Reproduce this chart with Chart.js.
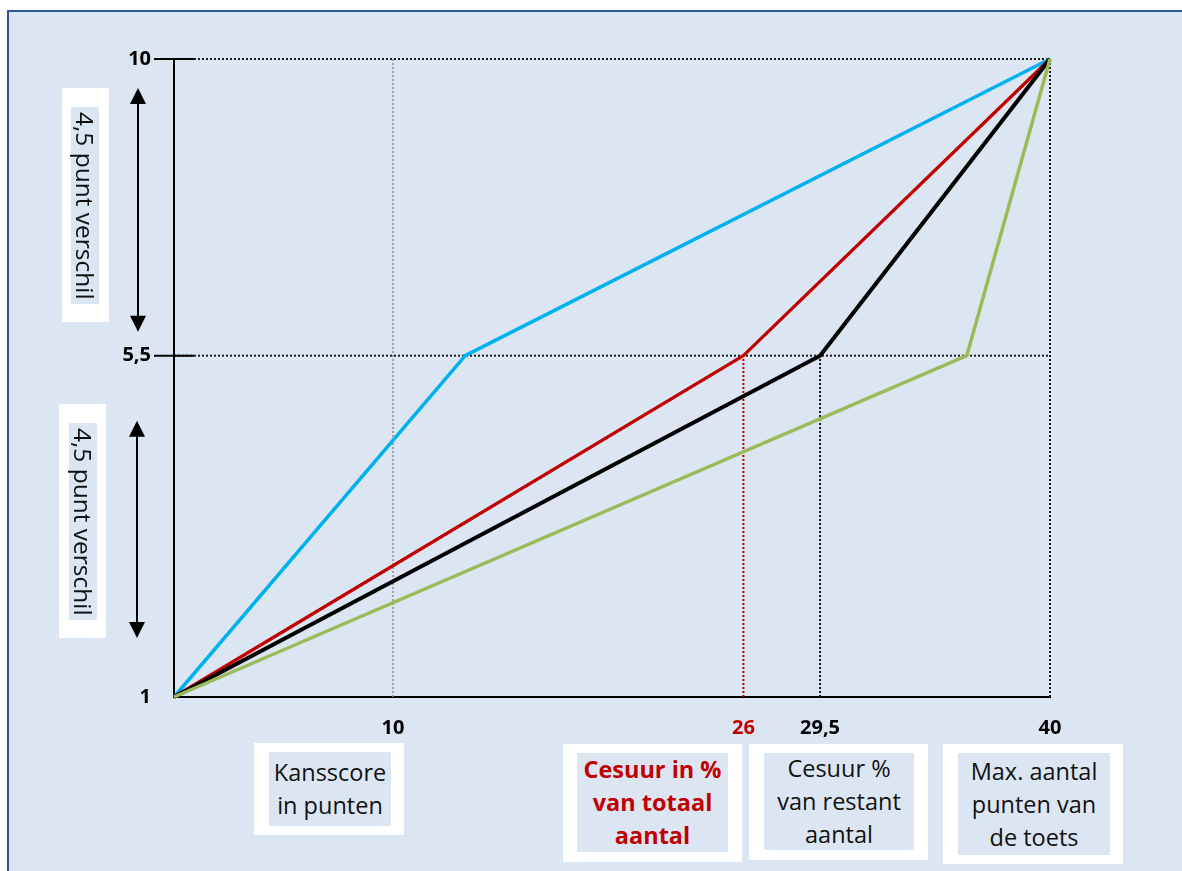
<!DOCTYPE html>
<html>
<head>
<title>Kansscore en cesuur</title>
<script src="https://cdn.jsdelivr.net/npm/chart.js@4.4.0/dist/chart.umd.min.js"></script>
<style>
body { margin:0; background:#fff; font-family:"Open Sans", sans-serif; }
#panel { position:absolute; left:7px; top:10px; width:1175px; height:861px; box-sizing:border-box;
  background:#dce6f2; border-left:2px solid #2f5597; border-top:2px solid #2f5597; }
#wrap { position:absolute; left:0; top:0; width:1182px; height:871px; }
.box { position:absolute; background:#fff; }
.in { position:absolute; background:#dce6f2; display:flex; flex-direction:column; align-items:center;
  justify-content:center; text-align:center; font-size:23.5px; line-height:33px; color:#111; }
.in.rot { display:block; writing-mode:vertical-rl; font-size:24.5px; line-height:28px; }
.red { color:#c00000; font-weight:bold; }
</style>
</head>
<body>
<div id="panel"></div>
<div id="wrap"><canvas id="myChart" width="1182" height="871"></canvas></div>

<div class="box" style="left:62px; top:88px; width:47px; height:234px;"></div>
<div class="in rot" style="left:71px; top:107px; width:28px; height:197px;">4,5 punt verschil</div>
<div class="box" style="left:59px; top:404px; width:47px; height:234px;"></div>
<div class="in rot" style="left:69px; top:423px; width:28px; height:197px;">4,5 punt verschil</div>

<div class="box" style="left:254px; top:743px; width:150px; height:92px;"></div>
<div class="in" style="left:269px; top:752px; width:122px; height:74px;"><div>Kansscore</div><div>in punten</div></div>
<div class="box" style="left:563px; top:744px; width:179px; height:118px;"></div>
<div class="in red" style="left:577px; top:753px; width:151px; height:99px;"><div>Cesuur in %</div><div>van totaal</div><div>aantal</div></div>
<div class="box" style="left:749px; top:744px; width:179px; height:116px;"></div>
<div class="in" style="left:764px; top:753px; width:150px; height:97px;"><div>Cesuur %</div><div>van restant</div><div>aantal</div></div>
<div class="box" style="left:943px; top:744px; width:180px; height:120px;"></div>
<div class="in" style="left:958px; top:753px; width:152px; height:102px;"><div>Max. aantal</div><div>punten van</div><div>de toets</div></div>

<script>
// lijnen: x-waarden van beginpunt, knik en eindpunt
var blueX  = [0, 13.3, 40];
var redX   = [0, 26, 40];
var blackX = [0, 29.5, 40];
var greenX = [0, 36.2, 40];
var lineY  = [1, 5.5, 10];

var xTicks = [10, 26, 29.5, 40];
var yTicks = [1, 5.5, 10];
var redTick = 26;

// y-as is in de tekening niet lineair: 5,5 ligt boven het midden
var yBreakPos = [0, 0.535, 1];

class SplitScale extends Chart.LinearScale {
  getPixelForValue(value) {
    var d = 0;
    for (var i = 1; i < yTicks.length; i++) {
      if (value <= yTicks[i] || i === yTicks.length - 1) {
        d = yBreakPos[i-1] + (value - yTicks[i-1]) / (yTicks[i] - yTicks[i-1]) * (yBreakPos[i] - yBreakPos[i-1]);
        break;
      }
    }
    return this.getPixelForDecimal(d);
  }
  getValueForPixel(pixel) {
    var d = this.getDecimalForPixel(pixel);
    for (var i = 1; i < yTicks.length; i++) {
      if (d <= yBreakPos[i] || i === yTicks.length - 1) {
        return yTicks[i-1] + (d - yBreakPos[i-1]) / (yBreakPos[i] - yBreakPos[i-1]) * (yTicks[i] - yTicks[i-1]);
      }
    }
  }
}
SplitScale.id = 'split';
SplitScale.defaults = Chart.LinearScale.defaults;
Chart.register(SplitScale);

function pts(xs, ys) {
  return xs.map(function (x, i) { return {x: x, y: ys[i]}; });
}

function guide(xs, ys, color, w) {
  return { data: pts(xs, ys), borderColor: color, borderWidth: w || 2, borderDash: [2, 2],
           pointRadius: 0, order: 10, clip: false };
}

function line(xs, color, w) {
  return { data: pts(xs, lineY), borderColor: color, borderWidth: w, pointRadius: 0,
           order: 1, clip: false, borderJoinStyle: 'round' };
}

var xMin = blueX[0], xMax = blueX[2];
var yMin = lineY[0], yMid = lineY[1], yMax = lineY[2];

var datasets = [
  guide([xMin, xMax], [yMax, yMax], '#1a1a1a'),
  guide([xMin, xMax], [yMid, yMid], '#1a1a1a'),
  guide([xTicks[0], xTicks[0]], [yMin, yMax], '#8c8c8c', 1.5),
  guide([xTicks[1], xTicks[1]], [yMin, yMid], '#c00000'),
  guide([xTicks[2], xTicks[2]], [yMin, yMid], '#1a1a1a'),
  guide([xTicks[3], xTicks[3]], [yMin, yMax], '#1a1a1a'),
  line(greenX, '#9bbb59', 3.5),
  line(blackX, '#000000', 4),
  line(redX, '#c00000', 3.3),
  line(blueX, '#00b0f0', 3.5)
];

var decor = {
  id: 'decor',
  afterDraw: function (chart) {
    var ctx = chart.ctx, ca = chart.chartArea, ys = chart.scales.y;
    ctx.save();
    ctx.strokeStyle = '#000';
    ctx.lineWidth = 2;
    // streepjes op de y-as
    [yMid, yMax].forEach(function (v) {
      var p = ys.getPixelForValue(v);
      ctx.beginPath();
      ctx.moveTo(ca.left - 20, p);
      ctx.lineTo(ca.left + 20, p);
      ctx.stroke();
    });
    // dubbele pijlen
    function arrow(x, y1, y2) {
      ctx.beginPath();
      ctx.moveTo(x, y1 + 10);
      ctx.lineTo(x, y2 - 10);
      ctx.stroke();
      ctx.beginPath();
      ctx.moveTo(x, y1); ctx.lineTo(x - 8, y1 + 16); ctx.lineTo(x + 8, y1 + 16); ctx.closePath();
      ctx.moveTo(x, y2); ctx.lineTo(x - 8, y2 - 16); ctx.lineTo(x + 8, y2 - 16); ctx.closePath();
      ctx.fillStyle = '#000';
      ctx.fill();
    }
    arrow(ca.left - 36, ys.getPixelForValue(yMax) + 29, ys.getPixelForValue(yMid) - 24);
    arrow(ca.left - 37, ys.getPixelForValue(yMid) + 65, ys.getPixelForValue(yMin) - 59);
    ctx.restore();
  }
};

var tickFont = { family: 'Open Sans', size: 20, weight: 'bold' };
function fmt(v) { return String(v).replace('.', ','); }

var ctx = document.getElementById('myChart').getContext('2d');
var chart = new Chart(ctx, {
  type: 'line',
  data: { datasets: datasets },
  plugins: [decor],
  options: {
    responsive: false,
    animation: false,
    layout: { padding: { left: 94, right: 132, top: 59, bottom: 114 } },
    plugins: { legend: { display: false }, tooltip: { enabled: false } },
    scales: {
      x: {
        type: 'linear', min: xMin, max: xMax,
        afterBuildTicks: function (s) { s.ticks = xTicks.map(function (v) { return {value: v}; }); },
        afterFit: function (s) { s.height = 60; },
        grid: { display: false, drawTicks: false },
        border: { display: true, color: '#000', width: 2 },
        ticks: {
          font: tickFont, padding: 19, autoSkip: false, maxRotation: 0,
          color: function (c) { return c.tick && c.tick.value === redTick ? '#c00000' : '#000'; },
          callback: fmt
        }
      },
      y: {
        type: 'split', min: yMin, max: yMax,
        afterBuildTicks: function (s) { s.ticks = yTicks.map(function (v) { return {value: v}; }); },
        afterFit: function (s) { s.width = 80; },
        grid: { display: false, drawTicks: false },
        border: { display: true, color: '#000', width: 2 },
        ticks: { font: tickFont, padding: 23, color: '#000', callback: fmt }
      }
    }
  }
});
</script>
</body>
</html>
